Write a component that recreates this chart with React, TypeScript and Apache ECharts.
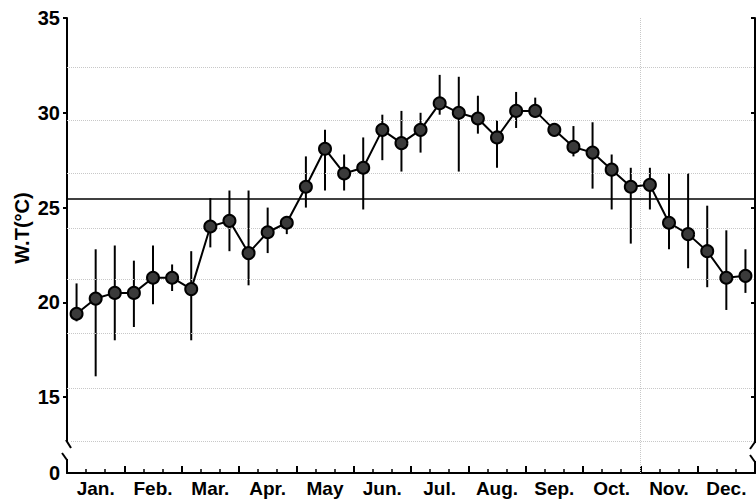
import React, { useEffect, useRef } from "react";
import * as echarts from "echarts";

// Month labels (each month split into three dekads)
const months = ["Jan.", "Feb.", "Mar.", "Apr.", "May", "Jun.", "Jul.", "Aug.", "Sep.", "Oct.", "Nov.", "Dec."];

// Dekadal mean water temperature (°C), 36 values
const meanWT = [
  19.4, 20.2, 20.5,
  20.5, 21.3, 21.3,
  20.7, 24.0, 24.3,
  22.6, 23.7, 24.2,
  26.1, 28.1, 26.8,
  27.1, 29.1, 28.4,
  29.1, 30.5, 30.0,
  29.7, 28.7, 30.1,
  30.1, 29.1, 28.2,
  27.9, 27.0, 26.1,
  26.2, 24.2, 23.6,
  22.7, 21.3, 21.4,
];

// Lower end of the range bars
const lowWT = [
  19.0, 16.1, 18.0,
  18.7, 19.9, 20.6,
  18.0, 22.9, 22.7,
  20.9, 22.6, 23.6,
  25.0, 25.9, 25.9,
  24.9, 27.5, 26.9,
  27.9, 29.9, 26.9,
  28.9, 27.1, 29.2,
  29.8, 28.9, 27.7,
  26.0, 24.9, 23.1,
  24.9, 22.8, 21.8,
  20.8, 19.6, 20.5,
];

// Upper end of the range bars
const highWT = [
  21.0, 22.8, 23.0,
  22.2, 23.0, 22.0,
  22.7, 25.5, 25.9,
  25.9, 25.0, 24.5,
  27.7, 29.1, 27.8,
  28.7, 29.9, 30.1,
  30.0, 32.0, 31.9,
  30.9, 29.6, 31.1,
  30.8, 29.3, 29.3,
  29.5, 27.8, 27.1,
  27.1, 26.8, 26.8,
  25.1, 23.8, 22.8,
];

// Annual mean reference line
const annualMean = 25.45;

// Y tick values; the axis bottom (11) is labelled "0" because of the axis break
const yTickValues = [15, 20, 25, 30, 35];
const yAxisBottom = 11;
const yAxisTop = 35;

// Faint background paper grid (dotted)
const paperGridY = [32.4, 29.6, 26.8, 23.9, 21.2, 18.35, 15.45, 12.7];
const paperGridX = [30];

const FONT = "'Liberation Sans', Arial, Helvetica, sans-serif";

export default function App() {
  const ref = useRef<HTMLDivElement>(null);

  useEffect(() => {
    if (!ref.current) return;
    const chart = echarts.init(ref.current, null, { renderer: "svg" });

    const linePts = meanWT.map((v, i) => [i + 0.5, v]);
    const barPts = lowWT.map((l, i) => [i + 0.5, l, highWT[i]]);

    const gridLeft = 67;
    const gridTop = 18;
    const gridBottom = 30;
    const W = 756;
    const rightX = W - 1;

    chart.setOption({
      animation: false,
      backgroundColor: "#fff",
      grid: { left: gridLeft, right: 1, top: gridTop, bottom: gridBottom, containLabel: false },
      xAxis: [
        {
          type: "value",
          min: 0,
          max: 36,
          interval: 3,
          position: "bottom",
          axisLine: { show: true, onZero: false, lineStyle: { color: "#000", width: 2 } },
          axisTick: { show: true, inside: true, length: 7, lineStyle: { color: "#000", width: 2 } },
          minorTick: { show: true, splitNumber: 3, length: 4, lineStyle: { color: "#000", width: 1.5 } },
          axisLabel: { show: false },
          splitLine: { show: false },
        },
        {
          type: "category",
          data: months,
          position: "bottom",
          boundaryGap: true,
          axisLine: { show: false },
          axisTick: { show: false },
          axisLabel: {
            show: true,
            interval: 0,
            margin: 6,
            fontSize: 19,
            fontWeight: "bold",
            fontFamily: FONT,
            color: "#000",
          },
          splitLine: { show: false },
        },
      ],
      yAxis: [
        {
          type: "value",
          min: yAxisBottom,
          max: yAxisTop,
          position: "left",
          axisLine: { show: true, onZero: false, lineStyle: { color: "#000", width: 2 } },
          axisTick: { show: true, customValues: yTickValues, length: 4, lineStyle: { color: "#000", width: 2 } },
          axisLabel: {
            show: true,
            customValues: [yAxisBottom, ...yTickValues],
            formatter: (v: number) => (v === yAxisBottom ? "0" : String(v)),
            margin: 7,
            fontSize: 20,
            fontWeight: "bold",
            fontFamily: FONT,
            color: "#000",
          },
          splitLine: { show: false },
        },
        {
          type: "value",
          min: yAxisBottom,
          max: yAxisTop,
          position: "right",
          axisLine: { show: true, onZero: false, lineStyle: { color: "#000", width: 2 } },
          axisTick: { show: true, inside: true, customValues: yTickValues, length: 4, lineStyle: { color: "#000", width: 2 } },
          axisLabel: { show: false },
          splitLine: { show: false },
        },
      ],
      series: [
        {
          type: "line",
          name: "paper",
          data: [],
          silent: true,
          z: 1,
          markLine: {
            silent: true,
            symbol: ["none", "none"],
            label: { show: false },
            lineStyle: { color: "#c8c8c8", width: 1, type: "dotted" },
            data: [
              ...paperGridY.map((v) => ({ yAxis: v })),
              ...paperGridX.map((v) => ({ xAxis: v })),
            ],
          },
        },
        {
          type: "custom",
          name: "range",
          xAxisIndex: 0,
          yAxisIndex: 0,
          data: barPts,
          encode: { x: 0, y: [1, 2] },
          z: 3,
          renderItem: (params: any, api: any) => {
            const x = api.value(0);
            const lo = api.coord([x, api.value(1)]);
            const hi = api.coord([x, api.value(2)]);
            return {
              type: "line",
              shape: { x1: lo[0], y1: lo[1], x2: hi[0], y2: hi[1] },
              style: { stroke: "#000", lineWidth: 2 },
            };
          },
        },
        {
          type: "line",
          name: "W.T",
          xAxisIndex: 0,
          yAxisIndex: 0,
          data: linePts,
          symbol: "circle",
          symbolSize: 12,
          z: 5,
          lineStyle: { color: "#000", width: 2 },
          itemStyle: { color: "#3a3a3a", borderColor: "#000", borderWidth: 2 },
          markLine: {
            silent: true,
            symbol: ["none", "none"],
            label: { show: false },
            lineStyle: { color: "#000", width: 1.5, type: "solid" },
            data: [{ yAxis: annualMean }],
          },
        },
      ],
      graphic: [
        {
          type: "text",
          x: 22,
          y: 228,
          rotation: Math.PI / 2,
          style: {
            text: "W.T(°C)",
            fontSize: 20,
            fontWeight: "bold",
            fontFamily: FONT,
            fill: "#000",
            align: "center",
            verticalAlign: "middle",
          },
        },
        // left axis break
        { type: "rect", shape: { x: gridLeft - 4, y: 441, width: 8, height: 18 }, style: { fill: "#fff" }, z: 50 },
        { type: "line", shape: { x1: gridLeft - 1, y1: 440, x2: gridLeft + 4, y2: 448 }, style: { stroke: "#000", lineWidth: 2 }, z: 51 },
        { type: "line", shape: { x1: gridLeft - 5, y1: 453, x2: gridLeft, y2: 460 }, style: { stroke: "#000", lineWidth: 2 }, z: 51 },
        // right axis break
        { type: "rect", shape: { x: rightX - 6, y: 443, width: 8, height: 18 }, style: { fill: "#fff" }, z: 50 },
        { type: "line", shape: { x1: rightX, y1: 442, x2: rightX - 5, y2: 449 }, style: { stroke: "#000", lineWidth: 2 }, z: 51 },
        { type: "line", shape: { x1: rightX - 5, y1: 455, x2: rightX, y2: 462 }, style: { stroke: "#000", lineWidth: 2 }, z: 51 },
      ],
    });

    return () => chart.dispose();
  }, []);

  return (
    <div
      ref={ref}
      style={{ position: "absolute", left: 0, top: 0, width: 756, height: 503, background: "#fff" }}
    />
  );
}
